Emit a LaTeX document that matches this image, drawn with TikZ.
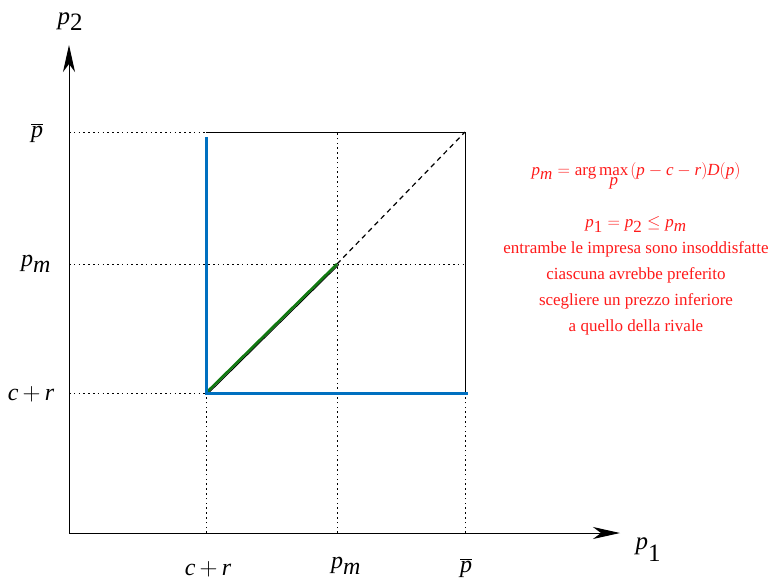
\documentclass[tikz,border=0pt]{standalone}
\usepackage{fontspec}
\setmainfont{Liberation Serif}
\usetikzlibrary{arrows.meta, positioning, calc}
\definecolor{segBlue}{HTML}{0070C0}
\definecolor{segGreen}{HTML}{117A11}
\definecolor{noteRed}{HTML}{FF1A1A}
\newcommand{\vi}[1]{\textit{#1}}
\newcommand{\pbar}{$\overline{\vi{p}}$}
\newcommand{\costr}{$\vi{c}\mskip3mu{+}\mskip3mu\vi{r}$}

\begin{document}
\begin{tikzpicture}[
  x=1pt, y=-1pt,
  axis/.style  ={-{Stealth[length=27pt, width=12pt, inset=8pt]}, line width=1pt},
  guide/.style ={dash pattern=on 1.6pt off 3.2pt, line width=0.9pt},
  edge/.style  ={line width=0.9pt},
  blueseg/.style={draw=segBlue, line width=3pt},
  greenseg/.style={draw=segGreen, line width=2.6pt},
  diag/.style  ={dash pattern=on 5pt off 4pt, line width=1.2pt},
  tick/.style  ={font=\fontsize{24}{28}\selectfont, inner sep=0pt},
  axlab/.style ={font=\fontsize{25}{28}\selectfont, inner sep=0pt},
  note/.style  ={text=noteRed, font=\fontsize{17}{26}\selectfont, align=center, inner sep=0pt},
]
\useasboundingbox (0,0) rectangle (777,582);
% ----- Axes -----
\coordinate (O)  at (69,533);
\coordinate (Y)  at (69,45);
\coordinate (X)  at (620,533);
\draw[axis] (O) -- (Y);
\draw[axis] (O) -- (X);
\node[axlab] (ylab) at (70,22)  {\vi{p}\raisebox{-6pt}{2}};
\node[axlab] (xlab) at (648,550) {\vi{p}\raisebox{-12pt}{1}};
% ----- Key points -----
\coordinate (A) at (206,393); % (c+r, c+r)
\coordinate (M) at (337,264); % (pm, pm)
\coordinate (T) at (465,132); % (pbar, pbar)
\coordinate (TL) at (206,132);
\coordinate (BR) at (465,393);
% ----- Guides -----
\draw[guide] (O |- TL) -- (TL);
\draw[guide] (O |- M) -- (BR |- M);
\draw[guide] (O |- A) -- (A);
\draw[guide] (A |- O) -- (A);
\draw[guide] (M |- O) -- (M |- T);
\draw[guide] (BR |- O) -- (BR);
% ----- Square -----
\draw[edge] (TL) -- (T) -- (BR);
\draw[diag] (M) -- (T);
\draw[edge] ($(A)+(1.5,1)$) -- ($(M)+(1.5,1)$);
\draw[greenseg] (A) -- (M);
\draw[blueseg] ($(TL)+(0,5)$) -- (A) -- ($(BR)+(3,0)$);
% ----- Tick labels -----
\node[tick] (ytop) at (37,133) {\pbar};
\node[tick] (ymid) at (36,264) {$\vi{p}_{\vi{m}}$};
\node[tick] (ylow) at (31,394) {\costr};
\node[tick] (xlow) at (208,569) {\costr};
\node[tick] (xmid) at (346,566) {$\vi{p}_{\vi{m}}$};
\node[tick] (xtop) at (466,568) {\pbar};
% ----- Note -----
\node[note] (pmdef) at (636,176)
  {$\vi{p}_{\vi{m}} = \textrm{arg}\max\limits_{\vi{p}}\mskip2mu\bigl(\vi{p}-\vi{c}-\vi{r}\bigr)\vi{D}\bigl(\vi{p}\bigr)$};
\node[note, anchor=north] (expl) at (636,216)
  {$\vi{p}_{\textrm{1}} = \vi{p}_{\textrm{2}} \le \vi{p}_{\vi{m}}$\\
   entrambe le impresa sono insoddisfatte\\
   ciascuna avrebbe preferito\\
   scegliere un prezzo inferiore\\
   a quello della rivale};
\end{tikzpicture}
\end{document}
